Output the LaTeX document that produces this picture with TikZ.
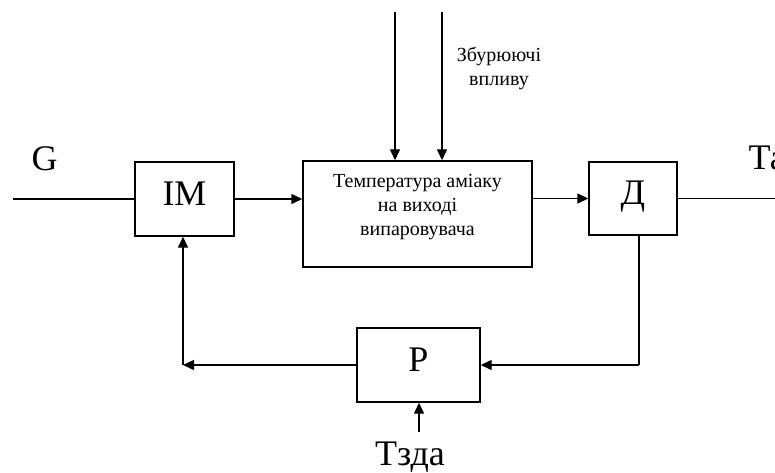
\documentclass[tikz,border=0pt]{standalone}
\usepackage{fontspec}
\setmainfont{Liberation Serif}
\usetikzlibrary{arrows.meta,calc}
\begin{document}
\begin{tikzpicture}[x=1pt,y=-1pt,
  line width=1.4pt,
  arr/.style={-{Triangle[length=11pt,width=10pt]}},
  blk/.style={draw,rectangle,inner sep=0pt,font=\fontsize{36}{40}\selectfont,text height=24pt,text depth=12pt},
  big/.style={font=\fontsize{36}{40}\selectfont,inner sep=0pt},
  small/.style={font=\fontsize{20}{24}\selectfont,align=center,inner sep=0pt}]
\useasboundingbox (0,0) rectangle (775,473);
% blocks
\node[blk,minimum width=99pt,minimum height=74pt] (im) at (184.5,199) {IM};
\node[draw,rectangle,minimum width=229pt,minimum height=106pt] (temp) at (417.5,214) {};
\node[small] (temptext) at (417.5,207.5) {Температура аміаку\\на виході\\випаровувача};
\node[blk,minimum width=88pt,minimum height=73pt] (d) at (633,198.5) {Д};
\node[blk,minimum width=123pt,minimum height=74pt] (p) at (418.5,365) {Р};
% labels
\node[big,anchor=base] (g) at (44.5,171) {G};
\node[big,anchor=base west] (ta) at (748,169) {Та};
\node[big,anchor=base] (tz) at (410,465) {Тзда};
\node[small] (zb) at (499,69) {Збурюючі\\впливу};
% coordinates
\coordinate (gin) at (13,199);
\coordinate (tout) at (776,198.5);
\coordinate (da) at (395,12);
\coordinate (db) at (442,12);
\coordinate (c1) at (639,365);
\coordinate (c2) at (183,365);
\coordinate (tzs) at (419,432);
% connectors
\draw (gin) -- (im.west);
\draw[arr] (im.east) -- (im.east -| temp.west);
\draw[arr] (d.west -| temp.east) -- (d.west);
\draw (d.east) -- (tout);
\draw[arr] (da) -- (da |- temp.north);
\draw[arr] (db) -- (db |- temp.north);
\draw (c1 |- d.south) -- (c1);
\draw[arr] (c1) -- (p.east);
\draw[arr] (p.west) -- (c2);
\draw[arr] (c2) -- (c2 |- im.south);
\draw[arr] (tzs) -- (tzs |- p.south);
\end{tikzpicture}
\end{document}
